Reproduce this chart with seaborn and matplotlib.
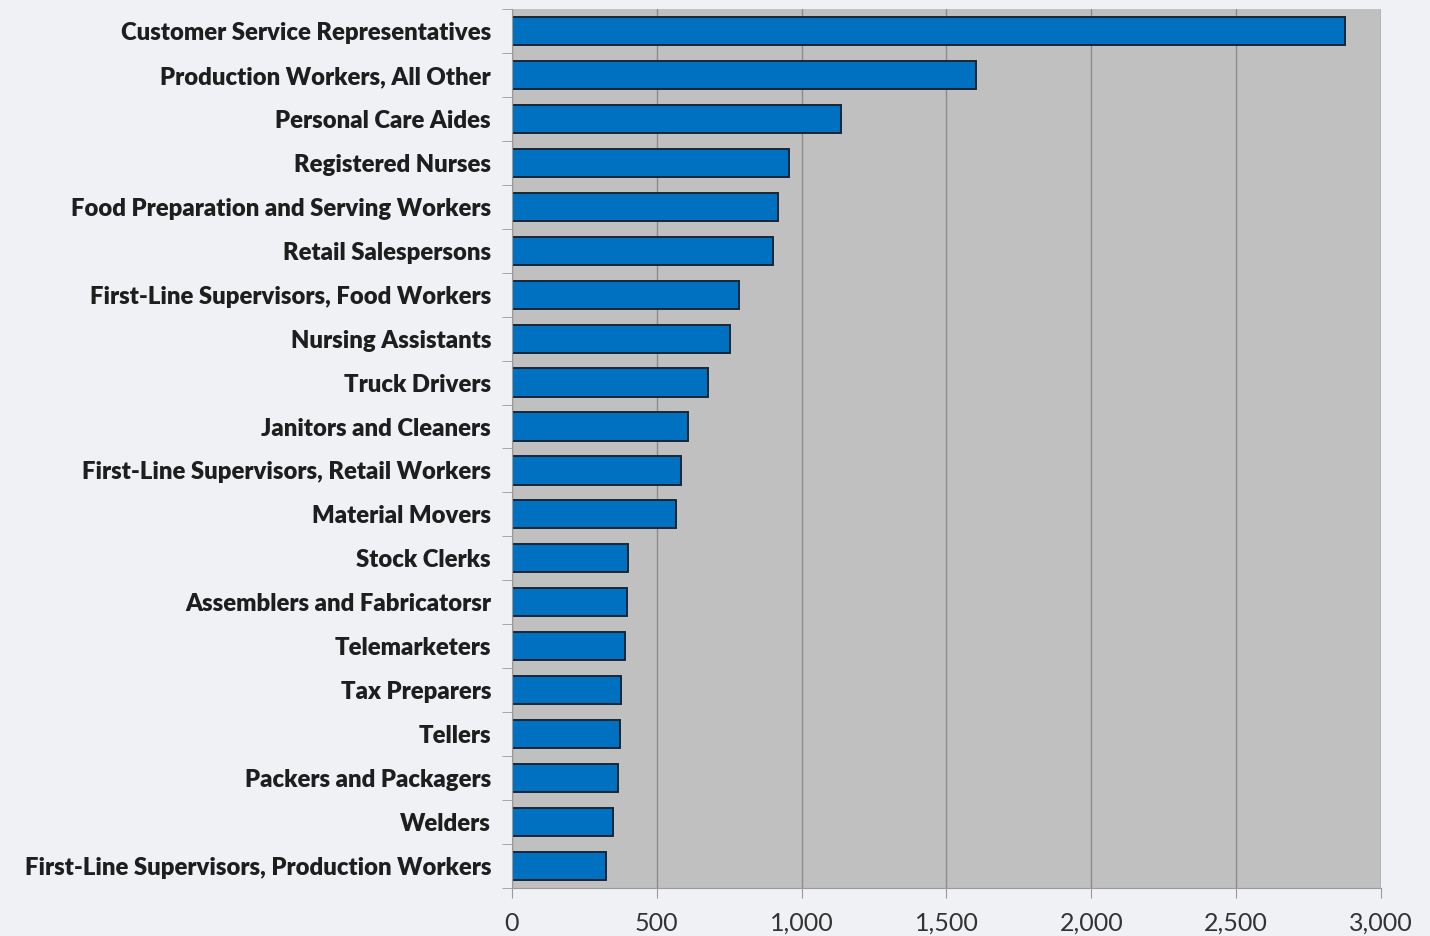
import numpy as np
import pandas as pd
import seaborn as sns
import matplotlib.pyplot as plt
from matplotlib.ticker import FuncFormatter, FixedLocator

occupations = [
    "Customer Service Representatives",
    "Production Workers, All Other",
    "Personal Care Aides",
    "Registered Nurses",
    "Food Preparation and Serving Workers",
    "Retail Salespersons",
    "First-Line Supervisors, Food Workers",
    "Nursing Assistants",
    "Truck Drivers",
    "Janitors and Cleaners",
    "First-Line Supervisors, Retail Workers",
    "Material Movers",
    "Stock Clerks",
    "Assemblers and Fabricatorsr",
    "Telemarketers",
    "Tax Preparers",
    "Tellers",
    "Packers and Packagers",
    "Welders",
    "First-Line Supervisors, Production Workers",
]
values = [2875, 1602, 1136, 956, 918, 901, 784, 753, 677, 608,
          583, 566, 400, 397, 390, 376, 373, 366, 349, 324]
x_ticks = [0, 500, 1000, 1500, 2000, 2500, 3000]

df = pd.DataFrame({"occupation": occupations, "value": values})

sns.set_style("white")
plt.rcParams['font.family'] = ['Lato', 'DejaVu Sans']

fig = plt.figure(figsize=(14.3, 9.36), dpi=100, facecolor="#eff1f4")
ax = fig.add_axes([0.358, 0.0513, 0.6077, 0.9391])
ax.set_facecolor("#c0c0c0")

sns.barplot(data=df, x="value", y="occupation", orient="h", ax=ax,
            color="#0070c0", saturation=1, width=0.64,
            edgecolor="#1a2535", linewidth=1.4, zorder=3)

ax.set_xlim(0, 3000)
ax.set_ylim(len(occupations) - 0.5, -0.5)
ax.xaxis.set_major_locator(FixedLocator(x_ticks))
ax.xaxis.set_major_formatter(FuncFormatter(lambda v, p: f"{int(v):,}"))
ax.grid(axis="x", color="#8c8c8c", linewidth=1.0, zorder=0)
ax.set_axisbelow(True)

ax.set_xlabel("")
ax.set_ylabel("")
for s in ["top", "right"]:
    ax.spines[s].set_visible(False)
ax.spines["left"].set_color("#9a9a9a")
ax.spines["bottom"].set_color("#9a9a9a")
ax.spines["left"].set_zorder(4)

ax.tick_params(axis="x", bottom=True, length=7, color="#9a9a9a", labelsize=18,
               labelcolor="#333333", pad=10)
ax.tick_params(axis="y", which="major", left=True, length=0, labelsize=17.2,
               labelcolor="#1e1e1e", pad=15)
ax.yaxis.set_minor_locator(FixedLocator(np.arange(-0.5, len(occupations), 1)))
ax.tick_params(axis="y", which="minor", left=True, length=7, color="#9a9a9a")
for lbl in ax.get_yticklabels():
    lbl.set_fontweight("heavy")

fig.savefig("out.png", dpi=100, facecolor=fig.get_facecolor())
